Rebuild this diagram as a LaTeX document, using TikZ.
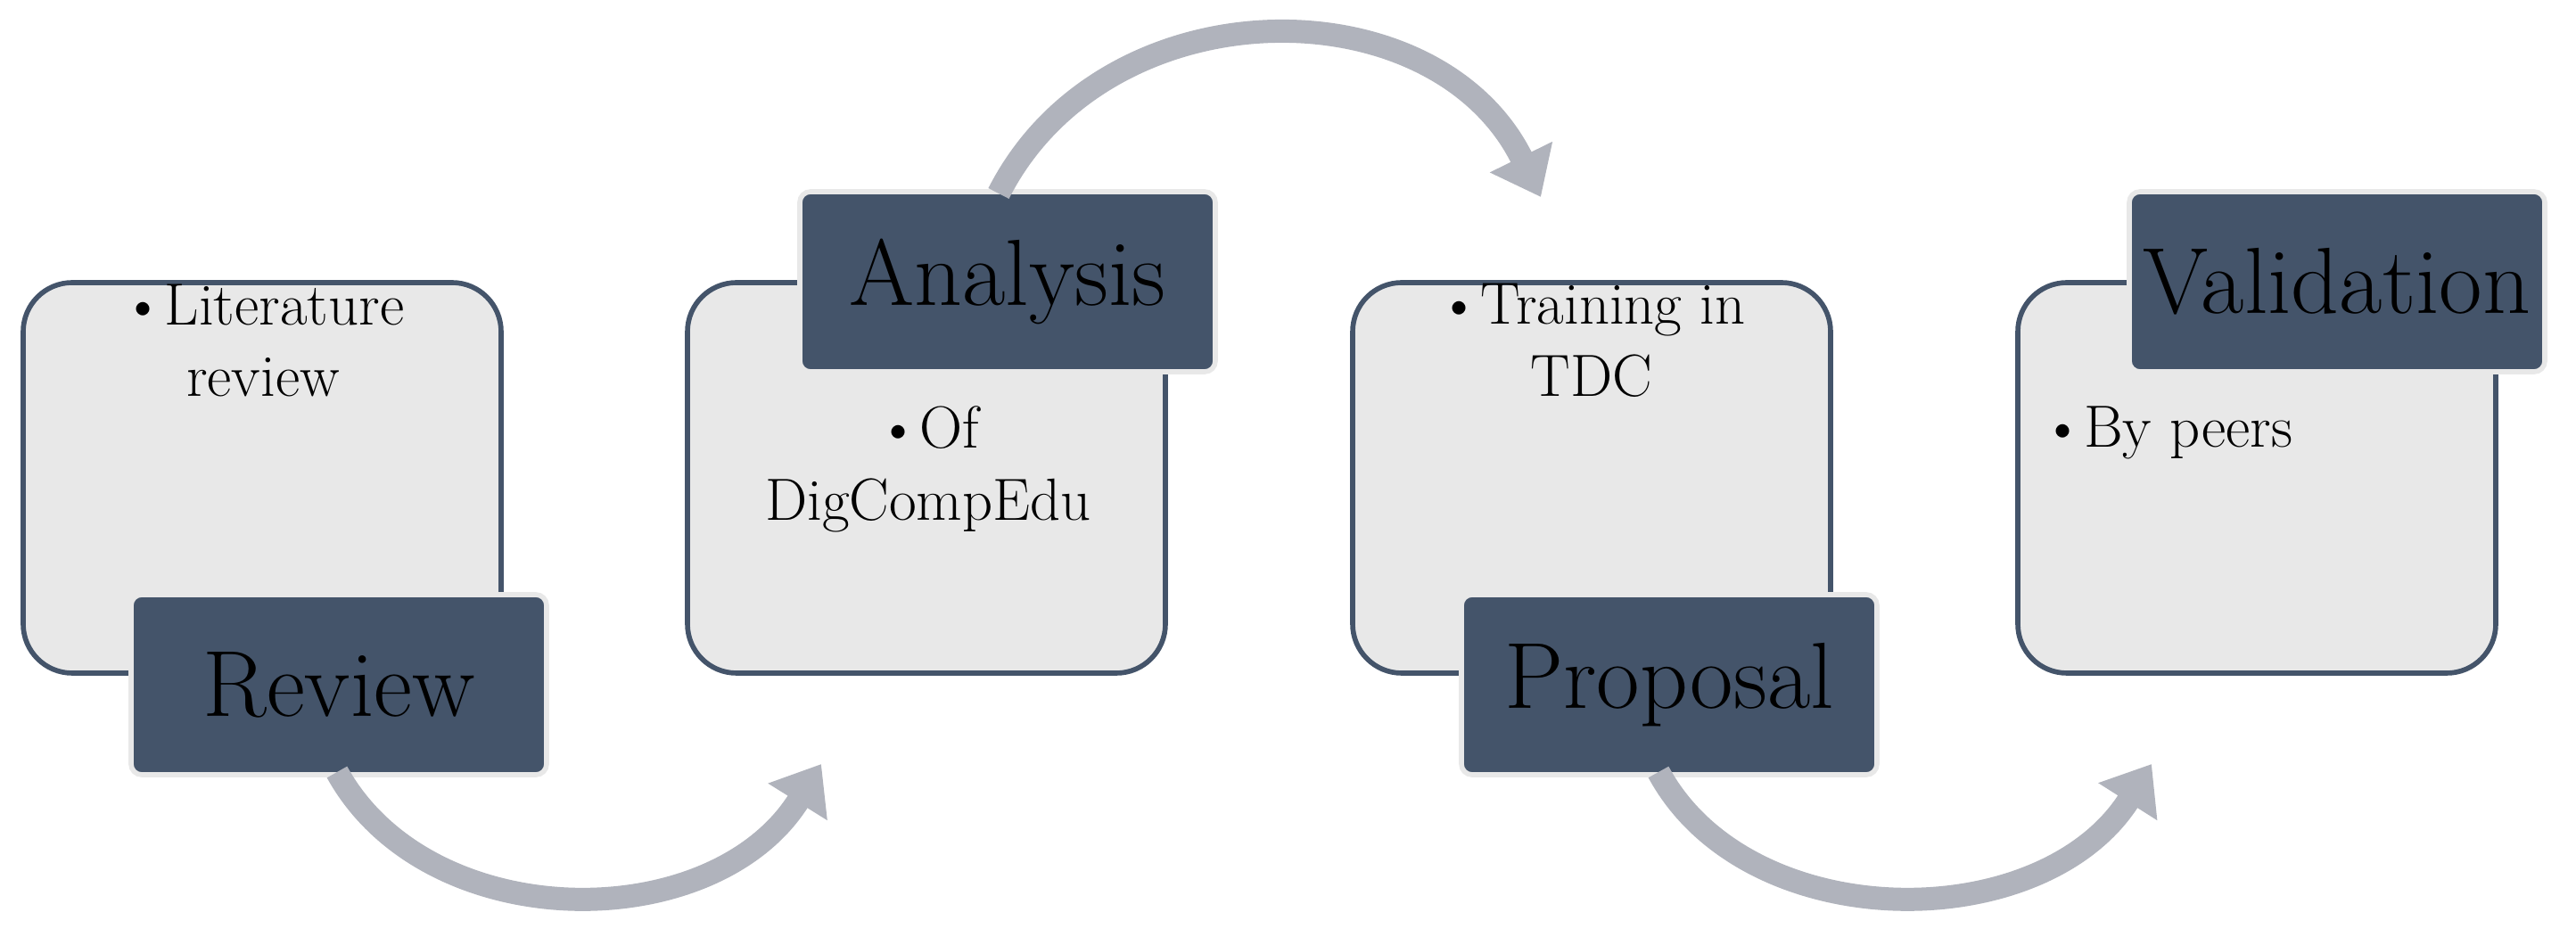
\documentclass[tikz,border=0pt]{standalone}
\usepackage{tikz}
\usetikzlibrary{arrows.meta}
\definecolor{slate}{RGB}{68,84,106}
\definecolor{boxfill}{RGB}{232,232,232}
\definecolor{arcgray}{RGB}{176,179,188}
\tikzset{
  stage/.style={rectangle, rounded corners=0.55cm, minimum width=5.36cm, minimum height=4.38cm, draw=slate, line width=1.6pt, fill=boxfill},
  tag/.style={rectangle, rounded corners=0.12cm, minimum width=4.66cm, minimum height=2.02cm, draw=boxfill, line width=1.6pt, fill=slate, font=\fontsize{30}{36}\selectfont},
  note/.style={align=center, anchor=north, font=\fontsize{19}{23}\selectfont},
  swing/.style={line width=0.26cm, draw=arcgray, -{Triangle[width=0.75cm,length=0.5cm]}}
}
\begin{document}
\begin{tikzpicture}
\useasboundingbox (0,0) rectangle (28.89,10.51);
% boxes
\node (b1) [stage] at (2.94,5.15) {};
\node (b2) [stage] at (10.39,5.15) {};
\node (b3) [stage] at (17.85,5.15) {};
\node (b4) [stage] at (25.31,5.15) {};
% texts
\node (t1) [note] at (2.95,7.45) {\textbullet Literature\\review};
\node (t2) [note] at (10.41,6.08) {\textbullet Of\\DigCompEdu};
\node (t3) [note] at (17.85,7.45) {\textbullet Training in\\TDC};
\node (t4) [note] at (24.30,6.08) {\textbullet By peers};
% labels
\node (l1) [tag] at (3.80,2.83) {Review};
\node (l2) [tag] at (11.30,7.35) {Analysis};
\node (l3) [tag] at (18.72,2.83) {Proposal};
\node (l4) [tag] at (26.21,7.35) {Validation};
% arcs
\coordinate (a1s) at (3.78,1.85);
\coordinate (a1e) at (9.21,1.94);
\coordinate (a2s) at (11.20,8.34);
\coordinate (a2e) at (17.28,8.30);
\coordinate (a3s) at (18.60,1.85);
\coordinate (a3e) at (24.13,1.94);
\draw [swing] (a1s) .. controls (4.8,0.0) and (8.0,0.0) .. (a1e);
\draw [swing] (a2s) .. controls (12.4,10.7) and (16.1,10.7) .. (a2e);
\draw [swing] (a3s) .. controls (19.6,0.0) and (22.9,0.0) .. (a3e);
\end{tikzpicture}
\end{document}
